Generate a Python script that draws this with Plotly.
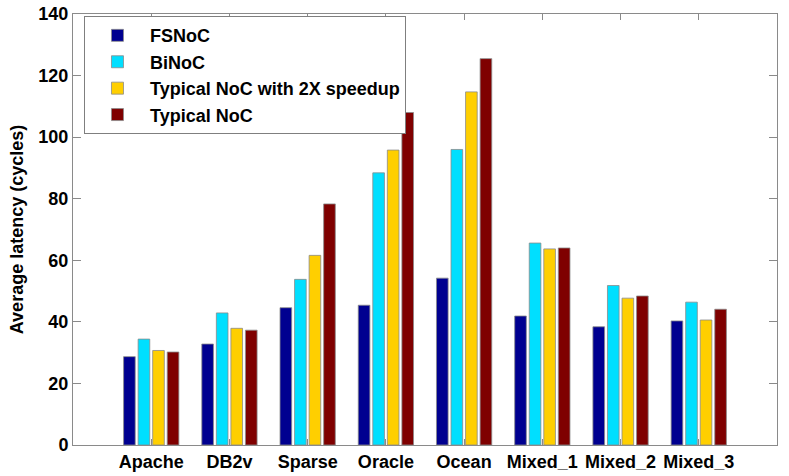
import plotly.graph_objects as go

categories = ["Apache", "DB2v", "Sparse", "Oracle", "Ocean", "Mixed_1", "Mixed_2", "Mixed_3"]
fsnoc = [28.7, 32.8, 44.6, 45.4, 54.2, 41.9, 38.4, 40.3]
binoc = [34.4, 42.9, 53.8, 88.4, 96.0, 65.6, 51.8, 46.4]
typical_2x = [30.7, 37.9, 61.6, 95.8, 114.7, 63.7, 47.7, 40.6]
typical = [30.2, 37.3, 78.3, 108.0, 125.5, 64.0, 48.4, 44.1]

series = [
    ("FSNoC", fsnoc, "#000090"),
    ("BiNoC", binoc, "#00DFFF"),
    ("Typical NoC with 2X speedup", typical_2x, "#FFCF00"),
    ("Typical NoC", typical, "#7F0000"),
]

x_pos = list(range(1, len(categories) + 1))

fig = go.Figure()
for name, vals, color in series:
    fig.add_trace(go.Bar(
        x=x_pos, y=vals, name=name,
        marker=dict(color=color, line=dict(color="#8a8a8a", width=0.8)),
    ))

font_family = "Liberation Sans, Arial, sans-serif"

fig.update_layout(
    width=789, height=476,
    margin=dict(l=73, r=12, t=14, b=31, autoexpand=False),
    paper_bgcolor="white", plot_bgcolor="white",
    barmode="group", bargap=0.256, bargroupgap=0.2,
    font=dict(family=font_family, size=18, color="black", weight="bold"),
    showlegend=True,
    legend=dict(
        x=0.0156, y=0.995, xanchor="left", yanchor="top",
        bgcolor="white", bordercolor="#7f7f7f", borderwidth=1,
        font=dict(family=font_family, size=18, color="black", weight="bold"),
        itemwidth=55, tracegroupgap=0,
    ),
    xaxis=dict(
        range=[0, 9], tickmode="array", tickvals=x_pos, ticktext=categories,
        showgrid=False, zeroline=False, automargin=False,
        showline=True, linecolor="#8a8a8a", linewidth=1, mirror="ticks",
        ticks="inside", ticklen=6, tickcolor="#8a8a8a",
        tickfont=dict(family=font_family, size=18, color="black", weight="bold"),
    ),
    yaxis=dict(
        range=[0, 140], tickmode="array", tickvals=[0, 20, 40, 60, 80, 100, 120, 140],
        showgrid=False, zeroline=False, automargin=False,
        showline=True, linecolor="#8a8a8a", linewidth=1, mirror="ticks",
        ticks="inside", ticklen=8, tickcolor="#8a8a8a",
        tickfont=dict(family=font_family, size=18, color="black", weight="bold"),
        title=dict(text="Average latency (cycles)", standoff=10,
                   font=dict(family=font_family, size=18, color="black", weight="bold")),
    ),
)

fig.write_html(
    "out.html",
    config={"displayModeBar": False},
    post_script="document.body.style.margin='0';document.body.style.overflow='hidden';",
)
